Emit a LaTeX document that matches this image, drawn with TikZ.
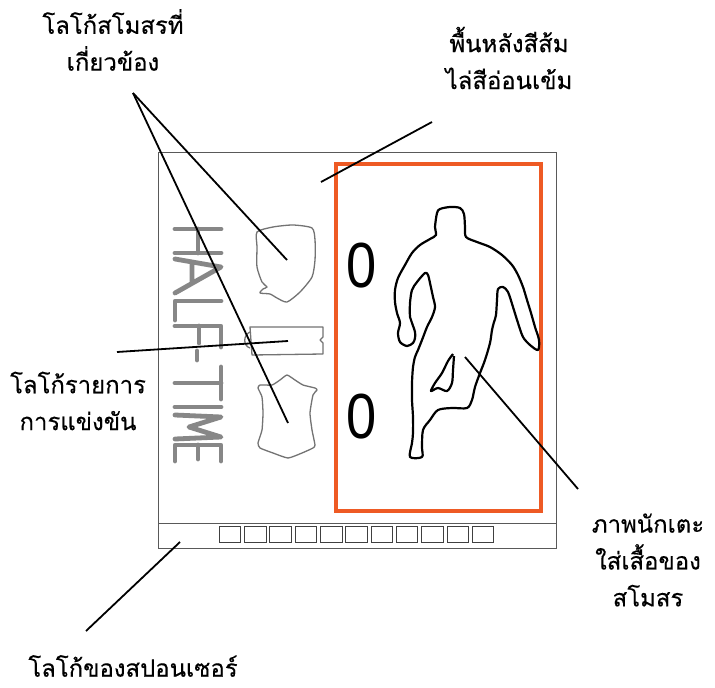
\documentclass[tikz,border=0pt]{standalone}
\usepackage{fontspec}
\newfontfamily\thaifont[Script=Thai,FakeBold=0.35]{Loma}
\newfontfamily\scorefont{Liberation Sans}
\definecolor{panelorange}{RGB}{238,90,36}
\begin{document}
\begin{tikzpicture}[x=1bp,y=-1bp,
  lbl/.style={align=center, font=\thaifont\fontsize{24}{37}\selectfont, inner sep=0pt},
  leader/.style={draw=black, line width=1.8bp},
  frameline/.style={draw=black!65, line width=1bp},
  crest/.style={draw=black!55, line width=1.3bp, line join=round},
  sponsorbox/.style={draw=black!75, line width=0.9bp, minimum width=21.5bp, minimum height=16bp, inner sep=0pt},
  score/.style={font=\scorefont\fontsize{64}{64}\selectfont, inner sep=0pt, xscale=0.85},
  htstroke/.style={draw=black!47, line width=4.8bp, line cap=round, line join=round},
  outline/.style={draw=black, line width=2.2bp, line join=round}
]
\useasboundingbox (0,0) rectangle (715,688);
\fill[white] (0,0) rectangle (715,688);

% board and sponsor strip
\draw[frameline] (158,152) rectangle (556,548);
\draw[frameline] (158,523) -- (556,523);
\foreach \i in {0,...,10}
  \node[sponsorbox] (sp\i) at (230+25.3*\i,534.7) {};

% orange panel
\draw[draw=panelorange, line width=3.5bp] (336,164) rectangle (541,511);

% scores
\node[score] (home) at (362,266) {0};
\node[score] (away) at (362,417) {0};

% HALF-TIME, written downwards
\begin{scope}[shift={(175,227)}]
  \draw[htstroke] (0,2)--(46,2) (0,26)--(46,26) (23,2)--(23,26);
  \draw[htstroke] (0,32)--(46,40)--(0,66) (17,35)--(17,56);
  \draw[htstroke] (46,74)--(0,74)--(0,93);
  \draw[htstroke] (0,99)--(46,99)--(46,120) (24,99)--(24,116);
  \draw[htstroke] (22,124)--(22,133);
  \draw[htstroke] (46,140)--(46,172) (46,156)--(0,156);
  \draw[htstroke] (0,180)--(46,180);
  \draw[htstroke] (0,188)--(46,190)--(14,200)--(46,210)--(0,212);
  \draw[htstroke] (46,234)--(46,218)--(0,218)--(0,234) (23,218)--(23,232);
\end{scope}

% club crests
\draw[crest] plot[smooth cycle, tension=0.4] coordinates {(257,232) (273,227) (293,225) (312,228) (315,240) (315,260) (312,277) (300,292) (287,302) (277,298) (270,294) (260,293) (263,289) (267,287) (262,282) (257,267) (257,247)};
\draw[crest] plot[smooth cycle, tension=0.3] coordinates {(287,375) (280,380) (272,385) (260,385) (258,388) (262,397) (263,413) (262,430) (258,443) (260,448) (273,453) (288,458) (302,453) (313,448) (315,445) (312,430) (310,413) (313,395) (317,390) (315,388) (303,385) (295,380)};

% competition logo
\draw[crest] (250,327) -- (323,327) -- (323,337) -- (320,340) -- (323,343) -- (323,354) -- (252,355) -- cycle;
\draw[crest] (250,332) .. controls (243,335) and (243,346) .. (250,348);

% player silhouette
\draw[outline] plot[smooth cycle, tension=0.5] coordinates {(450,207) (460,208) (464,214) (465,227) (466,237) (477,242) (490,247) (502,255) (512,265) (518,275) (523,287) (527,300) (531,313) (535,327) (539,340) (538,350) (530,345) (523,337) (518,323) (513,307) (508,292) (503,287) (498,289) (497,300) (496,315) (494,322) (492,330) (490,343) (485,360) (480,373) (475,387) (472,400) (467,408) (452,408) (438,410) (430,420) (423,430) (422,447) (422,457) (410,457) (412,443) (413,433) (413,417) (412,400) (412,383) (413,367) (415,357) (418,350) (422,340) (427,327) (432,317) (435,307) (433,297) (430,283) (428,275) (425,273) (417,282) (412,290) (410,303) (410,317) (412,323) (415,332) (415,338) (413,343) (407,346) (400,342) (398,333) (400,323) (397,313) (395,302) (395,290) (398,278) (405,265) (412,253) (420,245) (430,239) (436,235) (435,227) (437,213) (440,209)};
\draw[outline] plot[smooth, tension=0.5] coordinates {(453,354) (448,361) (442,373) (435,383) (431,391) (438,388) (447,391) (452,383) (453,370) (454,356)};

% labels
\node[lbl] (clubs) at (113,40) {โลโก้สโมสรที่\\เกี่ยวข้อง};
\node[lbl] (bg) at (509,58) {พื้นหลังสีส้ม\\ไล่สีอ่อนเข้ม};
\node[lbl] (comp) at (78,401) {โลโก้รายการ\\การแข่งขัน};
\node[lbl] (player) at (648,560) {ภาพนักเตะ\\ใส่เสื้อของ\\สโมสร};
\node[lbl] (sponsor) at (133,666) {โลโก้ของสปอนเซอร์};

% leader lines
\coordinate (clubsTip) at (133,93);
\coordinate (crestA) at (287,260);
\coordinate (crestB) at (288,423);
\coordinate (bgTip) at (432,122);
\coordinate (bgEnd) at (321,182);
\coordinate (compTip) at (117,352);
\coordinate (compEnd) at (288,341);
\coordinate (playerEnd) at (465,357);
\coordinate (playerTip) at (578,489);
\coordinate (sponsorEnd) at (180,542);
\coordinate (sponsorTip) at (86,631);
\draw[leader] (clubsTip) -- (crestA);
\draw[leader] (clubsTip) -- (crestB);
\draw[leader] (bgTip) -- (bgEnd);
\draw[leader] (compTip) -- (compEnd);
\draw[leader] (playerTip) -- (playerEnd);
\draw[leader] (sponsorTip) -- (sponsorEnd);
\end{tikzpicture}
\end{document}
